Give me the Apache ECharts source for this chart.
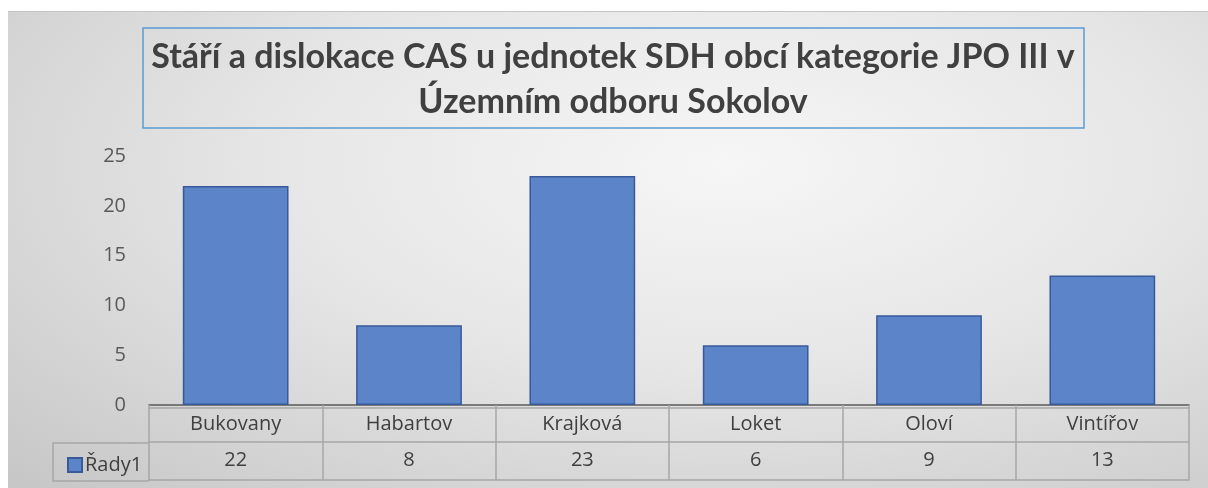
<!DOCTYPE html>
<html>
<head>
<meta charset="utf-8">
<script src="https://cdn.jsdelivr.net/npm/echarts@6/dist/echarts.min.js"></script>
<style>
    html, body { margin: 0; padding: 0; background: #ffffff; }
    #chart {
        position: absolute;
        left: 8px;
        top: 11px;
        width: 1200px;
        height: 477px;
        border-top: 1px solid #c4c4c4;
        box-sizing: border-box;
        background: radial-gradient(ellipse at 60% 32%, #f6f6f6 0%, #e6e6e6 45%, #c6c6c6 100%);
    }
</style>
</head>
<body>
<div id="chart"></div>
<script>
// data
const categories = ["Bukovany", "Habartov", "Krajková", "Loket", "Oloví", "Vintířov"];
const values = [22, 8, 23, 6, 9, 13];
const seriesName = "Řady1";
const titleText = "Stáří a dislokace CAS u jednotek SDH obcí kategorie JPO III v\nÚzemním odboru Sokolov";

const titleFont = "Lato";
const font = "Open Sans";
const tableLine = { color: "#a6a6a6", width: 1.5 };

const chart = echarts.init(document.getElementById("chart"), null, { renderer: "canvas" });

const options = {
    backgroundColor: "transparent",
    animation: false,
    title: {
        text: titleText,
        left: 600,
        top: 18,
        textAlign: "center",
        textStyle: {
            fontFamily: titleFont,
            fontSize: 34,
            fontWeight: "bold",
            color: "#404040",
            lineHeight: 45,
        },
    },
    legend: {
        left: 54,
        top: 438,
        itemWidth: 14,
        itemHeight: 14,
        icon: "rect",
        textStyle: { fontFamily: font, fontSize: 20, color: "#404040", padding: [0, 0, 0, -2] },
        data: [seriesName],
    },
    grid: {
        left: 141,
        right: 19,
        top: 144,
        bottom: 83,
    },
    yAxis: {
        type: "value",
        min: 0,
        max: 25,
        interval: 5,
        axisLine: { show: false },
        axisTick: { show: false },
        splitLine: { show: false },
        axisLabel: { fontFamily: font, fontSize: 20, color: "#595959", margin: 23 },
    },
    xAxis: [
        {
            type: "category",
            position: "bottom",
            data: categories,
            axisLine: { lineStyle: { color: "#595959", width: 1.5 } },
            axisTick: { show: true, interval: 0, length: 75, lineStyle: tableLine },
            axisLabel: { interval: 0, fontFamily: font, fontSize: 20, color: "#404040", margin: 9 },
        },
        {
            type: "category",
            position: "bottom",
            offset: 37,
            data: values.map(String),
            axisLine: { lineStyle: tableLine },
            axisTick: { show: false },
            axisLabel: { interval: 0, fontFamily: font, fontSize: 20, color: "#404040", margin: 8 },
        },
        {
            type: "category",
            position: "bottom",
            offset: 3,
            data: categories,
            axisLine: { lineStyle: tableLine },
            axisTick: { show: false },
            axisLabel: { show: false },
        },
        {
            type: "category",
            position: "bottom",
            offset: 75,
            data: categories,
            axisLine: { lineStyle: tableLine },
            axisTick: { show: false },
            axisLabel: { show: false },
        },
    ],
    series: [
        {
            name: seriesName,
            type: "bar",
            xAxisIndex: 0,
            barWidth: "61%",
            itemStyle: { color: "#5b84c9", borderColor: "#38599a", borderWidth: 1.5 },
            data: values,
        },
    ],
    graphic: [
        {
            type: "rect",
            shape: { x: 135, y: 16, width: 941, height: 100 },
            style: { fill: "none", stroke: "#5b9bd5", lineWidth: 1.5 },
            z: 0,
        },
        {
            type: "polyline",
            shape: { points: [[141, 431], [45, 431], [45, 469], [141, 469]] },
            style: { fill: "none", stroke: "#a6a6a6", lineWidth: 1.5 },
        },
    ],
};

chart.setOption(options);
</script>
</body>
</html>
